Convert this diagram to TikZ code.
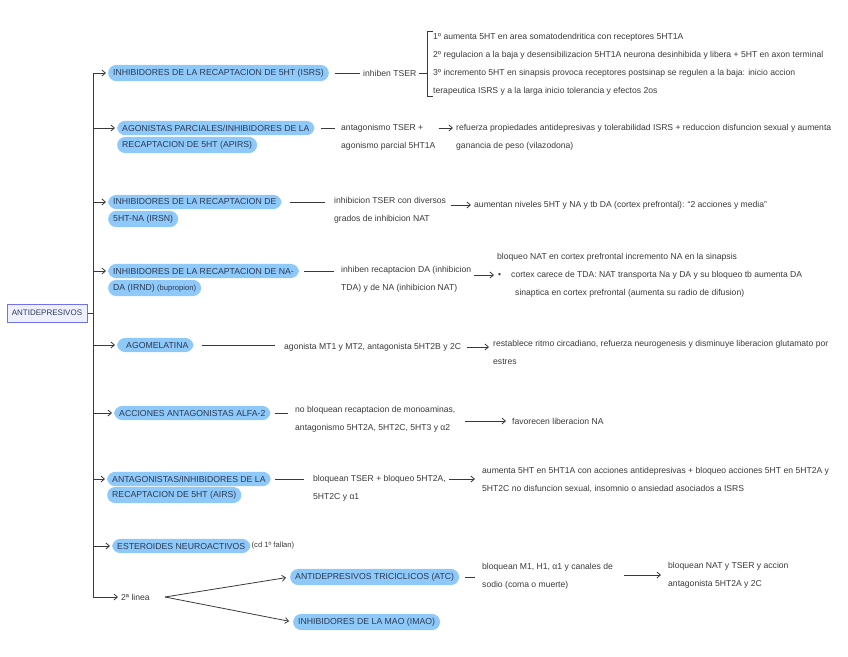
\documentclass[tikz,border=0pt]{standalone}
\usepackage{fontspec}
\setmainfont{Liberation Sans}
\usetikzlibrary{arrows.meta}

\definecolor{pillblue}{HTML}{8FC9F9}
\definecolor{pilltext}{HTML}{2B3A55}
\definecolor{inktext}{HTML}{3A3A3A}
\definecolor{rootline}{HTML}{7070F0}
\definecolor{rootfill}{HTML}{EEF0FF}

\tikzset{
  pill/.style={fill=pillblue, rounded corners=8pt, text=pilltext, anchor=west,
    inner xsep=5pt, inner ysep=4pt, font=\fontsize{8.7}{17}\selectfont},
  note/.style={text=inktext, anchor=west, align=left, inner sep=1pt,
    font=\fontsize{8.6}{18}\selectfont},
  link/.style={draw=inktext, line width=0.8pt},
  go/.style={link, -{Straight Barb[length=3.5pt,width=6pt]}},
}

\begin{document}
\begin{tikzpicture}[x=1pt,y=-1pt]
\useasboundingbox (0,0) rectangle (848,656);

% raiz y tronco
\node[draw=rootline, line width=1pt, fill=rootfill, text=pilltext, inner sep=2pt,
  font=\fontsize{8}{9}\selectfont, minimum width=80pt, minimum height=18pt] (root) at (47,313) {ANTIDEPRESIVOS};
\coordinate (trunk) at (93,313);
\draw[link] (root) -- (trunk);

% ramas
\node[pill] (isrs) at (108,73) {INHIBIDORES DE LA RECAPTACION DE 5HT (ISRS)};
\node[pill] (apirsB) at (117,145) {RECAPTACION DE 5HT (APIRS)};
\node[pill] (apirsA) at (117,128) {AGONISTAS PARCIALES/INHIBIDORES DE LA};
\node[pill] (irsnB) at (108,219) {5HT-NA (IRSN)};
\node[pill] (irsnA) at (108,202) {INHIBIDORES DE LA RECAPTACION DE};
\node[pill] (irndB) at (108,288) {DA (IRND) {\fontsize{7.6}{9}\selectfont(bupropion)}};
\node[pill] (irndA) at (108,271) {INHIBIDORES DE LA RECAPTACION DE NA-};
\node[pill] (agom) at (117,345) {\hspace{4pt}AGOMELATINA\hspace{4pt}};
\node[pill] (alfa) at (114,413) {ACCIONES ANTAGONISTAS ALFA-2};
\node[pill] (airsB) at (107,495) {RECAPTACION DE 5HT (AIRS)};
\node[pill] (airsA) at (107,479) {ANTAGONISTAS/INHIBIDORES DE LA};
\node[pill] (ester) at (112,546) {ESTEROIDES NEUROACTIVOS};
\node[note, font=\fontsize{7.6}{9}\selectfont] (esterNote) at (ester.east) {(cd 1º fallan)};
\node[note] (linea) at (120,597) {2ª linea};

\draw[link] (isrs.west -| trunk) -- (linea.west -| trunk);
\foreach \n in {isrs,apirsA,irsnA,irndA,agom,alfa,airsA,ester,linea}
  \draw[go, shorten >=2pt] (\n.west -| trunk) -- (\n.west);

% ISRS
\node[note] (isrsTxt) at (362,73) {inhiben TSER};
\node[note, inner xsep=6pt] (isrsList) at (427,64) {1º aumenta 5HT en area somatodendritica con receptores 5HT1A\\
  2º regulacion a la baja y desensibilizacion 5HT1A neurona desinhibida y libera + 5HT en axon terminal\\
  3º incremento 5HT en sinapsis provoca receptores postsinap se regulen a la baja: inicio accion\\
  terapeutica ISRS y a la larga inicio tolerancia y efectos 2os};
\draw[link, shorten <=6pt, shorten >=2pt] (isrs.east) -- (isrsTxt.west);
\draw[link, shorten <=2pt] (isrsTxt.east) -- (isrsTxt.east -| isrsList.west);
\draw[link] ([xshift=6pt]isrsList.north west) -- (isrsList.north west)
  -- (isrsList.south west) -- ([xshift=6pt]isrsList.south west);

% APIRS
\node[note] (apirsTxt) at (340,137) {antagonismo TSER +\\agonismo parcial 5HT1A};
\node[note] (apirsEff) at (455,137) {refuerza propiedades antidepresivas y tolerabilidad ISRS + reduccion disfuncion sexual y aumenta\\ganancia de peso (vilazodona)};
\draw[link, shorten <=6pt, shorten >=5pt] (apirsA.east) -- (apirsA.east -| apirsTxt.west);
\draw[go, shorten <=2pt, shorten >=2pt] (apirsA.east -| apirsTxt.east) -- (apirsA.east -| apirsEff.west);

% IRSN
\node[note] (irsnTxt) at (333,210) {inhibicion TSER con diversos\\grados de inhibicion NAT};
\node[note] (irsnEff) at (473,205) {aumentan niveles 5HT y NA y tb DA (cortex prefrontal): ``2 acciones y media''};
\draw[link, shorten <=8pt, shorten >=8pt] (irsnA.east) -- (irsnA.east -| irsnTxt.west);
\draw[go, shorten <=4pt, shorten >=2pt] (irsnEff.west -| irsnTxt.east) -- (irsnEff.west);

% IRND
\node[note] (irndTxt) at (340,279) {inhiben recaptacion DA (inhibicion\\TDA) y de NA (inhibicion NAT)};
\node[note] (irndEff) at (496,275) {bloqueo NAT en cortex prefrontal incremento NA en la sinapsis\\
  \hspace*{1pt}•\hspace{10pt}cortex carece de TDA: NAT transporta Na y DA y su bloqueo tb aumenta DA\\
  \hspace*{18pt}sinaptica en cortex prefrontal (aumenta su radio de difusion)};
\draw[link, shorten <=5pt, shorten >=6pt] (irndA.east) -- (irndA.east -| irndTxt.west);
\draw[go, shorten <=2pt, shorten >=2pt] (irndEff.west -| irndTxt.east) -- (irndEff.west);

% AGOMELATINA
\node[note] (agomTxt) at (283,347) {agonista MT1 y MT2, antagonista 5HT2B y 2C};
\node[note] (agomEff) at (492,352) {restablece ritmo circadiano, refuerza neurogenesis y disminuye liberacion glutamato por\\estres};
\draw[link, shorten <=8pt, shorten >=8pt] (agom.east) -- (agom.east -| agomTxt.west);
\draw[go, shorten <=5pt, shorten >=3pt] (agomTxt.east) -- (agomTxt.east -| agomEff.west);

% ALFA-2
\node[note] (alfaTxt) at (294,419) {no bloquean recaptacion de monoaminas,\\antagonismo 5HT2A, 5HT2C, 5HT3 y α2};
\node[note] (alfaEff) at (511,421) {favorecen liberacion NA};
\draw[link, shorten <=4pt, shorten >=6pt] (alfa.east) -- (alfa.east -| alfaTxt.west);
\draw[go, shorten <=8pt, shorten >=5pt] (alfaEff.west -| alfaTxt.east) -- (alfaEff.west);

% AIRS
\node[note] (airsTxt) at (312,488) {bloquean TSER + bloqueo 5HT2A,\\5HT2C y α1};
\node[note] (airsEff) at (481,480) {aumenta 5HT en 5HT1A con acciones antidepresivas + bloqueo acciones 5HT en 5HT2A y\\5HT2C no disfuncion sexual, insomnio o ansiedad asociados a ISRS};
\draw[link, shorten <=4pt, shorten >=8pt] (airsA.east) -- (airsA.east -| airsTxt.west);
\draw[go, shorten <=2pt, shorten >=6pt] (airsA.east -| airsTxt.east) -- (airsA.east -| airsEff.west);

% 2a linea
\coordinate (fork) at (165,597);
\node[pill] (atc) at (290,577) {ANTIDEPRESIVOS TRICICLICOS (ATC)};
\node[pill] (imao) at (293,622) {INHIBIDORES DE LA MAO (IMAO)};
\draw[go, shorten >=4pt] (fork) -- (atc.west);
\draw[go, shorten >=4pt] (fork) -- (imao.west);
\node[note] (atcTxt) at (481,576) {bloquean M1, H1, α1 y canales de\\sodio (coma o muerte)};
\node[note] (atcEff) at (667,575) {bloquean NAT y TSER y accion\\antagonista 5HT2A y 2C};
\draw[link, shorten <=6pt, shorten >=6pt] (atc.east) -- (atc.east -| atcTxt.west);
\draw[go, shorten <=10pt, shorten >=6pt] (atcEff.west -| atcTxt.east) -- (atcEff.west);

\end{tikzpicture}
\end{document}
